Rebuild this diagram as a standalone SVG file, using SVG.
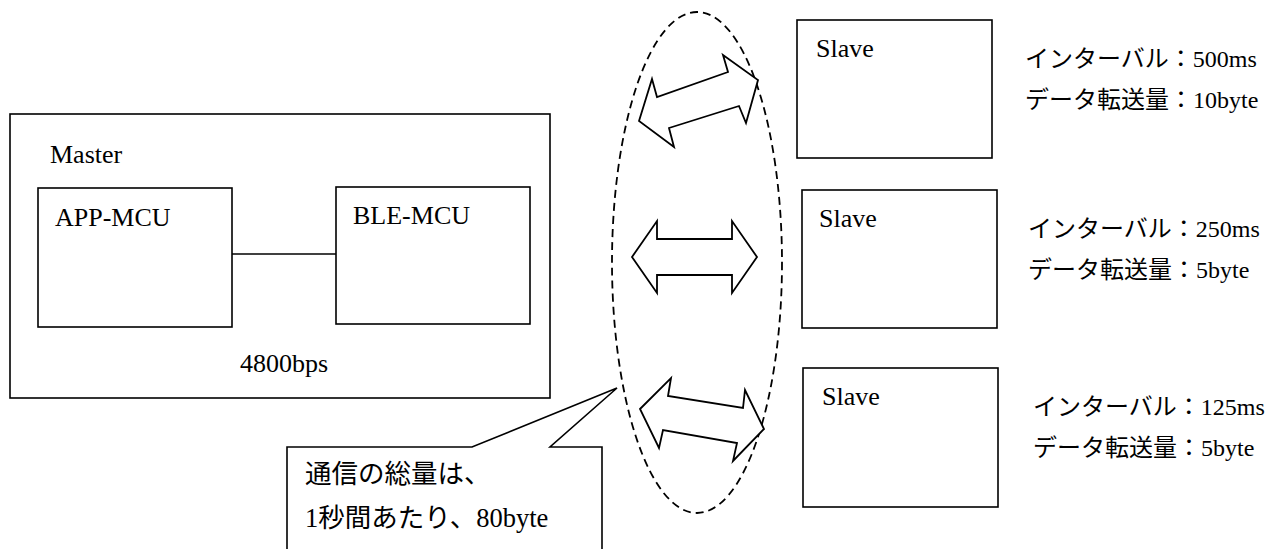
<svg xmlns="http://www.w3.org/2000/svg" width="1279" height="549" viewBox="0 0 1279 549">
<style>
.box{fill:#fff;stroke:#000;stroke-width:1.6}
.lbl{font-family:"Liberation Serif","Noto Sans CJK JP",serif;font-size:26px;fill:#000}
.co{font-family:"Liberation Serif","Noto Sans CJK JP",serif;font-size:26.5px;fill:#000}
.jp{font-family:"Liberation Serif","Noto Sans CJK JP",serif;font-size:24px;fill:#000}
.arr{fill:#fff;stroke:#000;stroke-width:1.8;stroke-linejoin:miter}
.ell{fill:none;stroke:#000;stroke-width:1.8;stroke-dasharray:8 5}
.conn{stroke:#000;stroke-width:1.6;fill:none}
</style>
<rect width="1279" height="549" fill="#fff"/>
<g id="master">
<rect class="box" x="10" y="114" width="540" height="284"/>
<text class="lbl" x="50" y="163">Master</text>
<text class="lbl" x="240" y="372">4800bps</text>
</g>
<g id="app-mcu">
<rect class="box" x="38" y="188" width="194" height="139"/>
<text class="lbl" x="55" y="226">APP-MCU</text>
</g>
<g id="ble-mcu">
<rect class="box" x="336" y="187" width="194" height="137"/>
<text class="lbl" x="353" y="224">BLE-MCU</text>
</g>
<g id="connectors">
<line class="conn" x1="232" y1="254" x2="336" y2="254"/>
<ellipse class="ell" cx="697" cy="262.5" rx="85" ry="250.5"/>
<polygon class="arr" points="639,121 652,79 657,97 728,72 723,55 758,80 746,123 739,106 669,128 674,147"/>
<polygon class="arr" points="632,257 657,221 657,239 732,239 732,221 757,257 732,293 732,275 657,275 657,293"/>
<polygon class="arr" points="640,409 671,378 668,396 743,408 745,390 764,429 733,461 737,443 663,430 659,448"/>
</g>
<g id="slave1">
<rect class="box" x="797" y="20" width="195" height="138"/>
<text class="lbl" x="816" y="57">Slave</text>
<text class="jp" x="1025" y="67">インターバル：500ms</text>
<text class="jp" x="1025" y="108">データ転送量：10byte</text>
</g>
<g id="slave2">
<rect class="box" x="802" y="190" width="195" height="138"/>
<text class="lbl" x="819" y="227">Slave</text>
<text class="jp" x="1028" y="237">インターバル：250ms</text>
<text class="jp" x="1028" y="278">データ転送量：5byte</text>
</g>
<g id="slave3">
<rect class="box" x="803" y="368" width="195" height="139"/>
<text class="lbl" x="822" y="405">Slave</text>
<text class="jp" x="1033" y="415">インターバル：125ms</text>
<text class="jp" x="1033" y="456">データ転送量：5byte</text>
</g>
<g id="callout">
<path class="box" d="M287,560 L287,447 L472,447 L617,388 L550,447 L602,447 L602,560"/>
<text class="co" x="305" y="483">通信の総量は、</text>
<text class="co" x="305" y="527">1秒間あたり、80byte</text>
</g>
</svg>
